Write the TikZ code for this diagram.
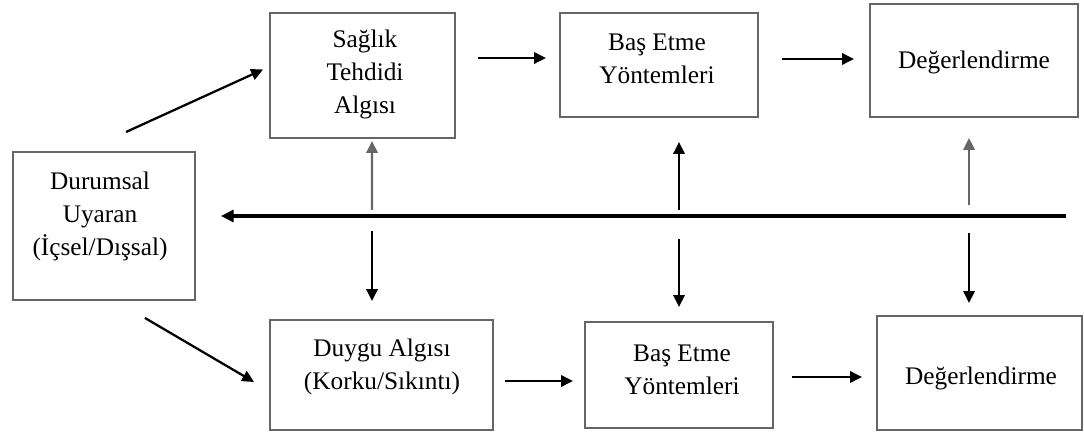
\documentclass[tikz,border=0pt]{standalone}
\usepackage{fontspec}
\setmainfont{Liberation Serif}
\usetikzlibrary{arrows.meta,calc}
\begin{document}
\begin{tikzpicture}[x=0.025cm,y=-0.025cm,
  box/.style={draw=black!60, line width=1.3pt, inner sep=0pt, fill=white},
  txt/.style={align=center, font=\fontsize{18}{23.5}\selectfont, inner sep=0pt, text=black},
  arr/.style={-{Triangle[length=8.5pt,width=8pt]}, line width=1.6pt, draw=black},
  garr/.style={arr, draw=black!60},
  bigarr/.style={-{Triangle[length=9pt,width=8.5pt]}, line width=2.6pt, draw=black}
]
\useasboundingbox (0,0) rectangle (1084,432);

% boxes
\node[box, minimum width=4.625cm, minimum height=3.125cm] (s1) at (362.5,75.5) {};
\node[box, minimum width=4.95cm,  minimum height=2.6cm]   (b1) at (659,65) {};
\node[box, minimum width=5.2cm,   minimum height=2.825cm] (d1) at (974,60.5) {};
\node[box, minimum width=4.55cm,  minimum height=3.7cm]   (u)  at (104,226) {};
\node[box, minimum width=5.575cm, minimum height=2.75cm]  (a2) at (381.5,375) {};
\node[box, minimum width=4.7cm,   minimum height=2.65cm]  (b2) at (679,375) {};
\node[box, minimum width=5.125cm, minimum height=2.85cm]  (d2) at (979.5,373) {};

% texts
\node[txt] (s1t) at (365,74) {Sağlık\\Tehdidi\\Algısı};
\node[txt] (b1t) at (657,59) {Baş Etme\\Yöntemleri};
\node[txt] (d1t) at (974,62) {Değerlendirme};
\node[txt] (ut)  at (100,216) {Durumsal\\Uyaran\\(İçsel/Dışsal)};
\node[txt] (a2t) at (382,367) {Duygu Algısı\\(Korku/Sıkıntı)};
\node[txt] (b2t) at (682,370) {Baş Etme\\Yöntemleri};
\node[txt] (d2t) at (981,378) {Değerlendirme};

% free ends
\coordinate (c1) at (126,132);
\coordinate (c2) at (145,318);
\coordinate (cl) at (1066,216);
\coordinate (up1) at (372,210);
\coordinate (up2) at (679,210);
\coordinate (up3) at (969,205);
\coordinate (dn1) at (372,231);
\coordinate (dn2) at (679,239);
\coordinate (dn3) at (969,233);

% connectors
\draw[arr] (c1) -- ($(s1.west)+(-6,-6)$);
\draw[arr] (c2) -- ($(a2.west)+(-15,7)$);
\draw[arr] ($(s1.east)+(22,-17.5)$) -- ($(b1.west)+(-13,-7)$);
\draw[arr] ($(b1.east)+(23,-6)$) -- ($(d1.west)+(-15,-1.5)$);
\draw[arr] ($(a2.east)+(11,6)$) -- ($(b2.west)+(-11,6)$);
\draw[arr] ($(b2.east)+(18,2)$) -- ($(d2.west)+(-14,4)$);
\draw[bigarr] (cl) -- ($(u.east)+(25,-10)$);
\draw[garr] (up1) -- ($(s1.south)+(9.5,2)$);
\draw[arr]  (up2) -- ($(b1.south)+(20,24)$);
\draw[garr] (up3) -- ($(d1.south)+(-5,20)$);
\draw[arr] (dn1) -- ($(a2.north)+(-9.5,-18)$);
\draw[arr] (dn2) -- ($(b2.north)+(0,-14)$);
\draw[arr] (dn3) -- ($(d2.north)+(-10.5,-12)$);
\end{tikzpicture}
\end{document}
